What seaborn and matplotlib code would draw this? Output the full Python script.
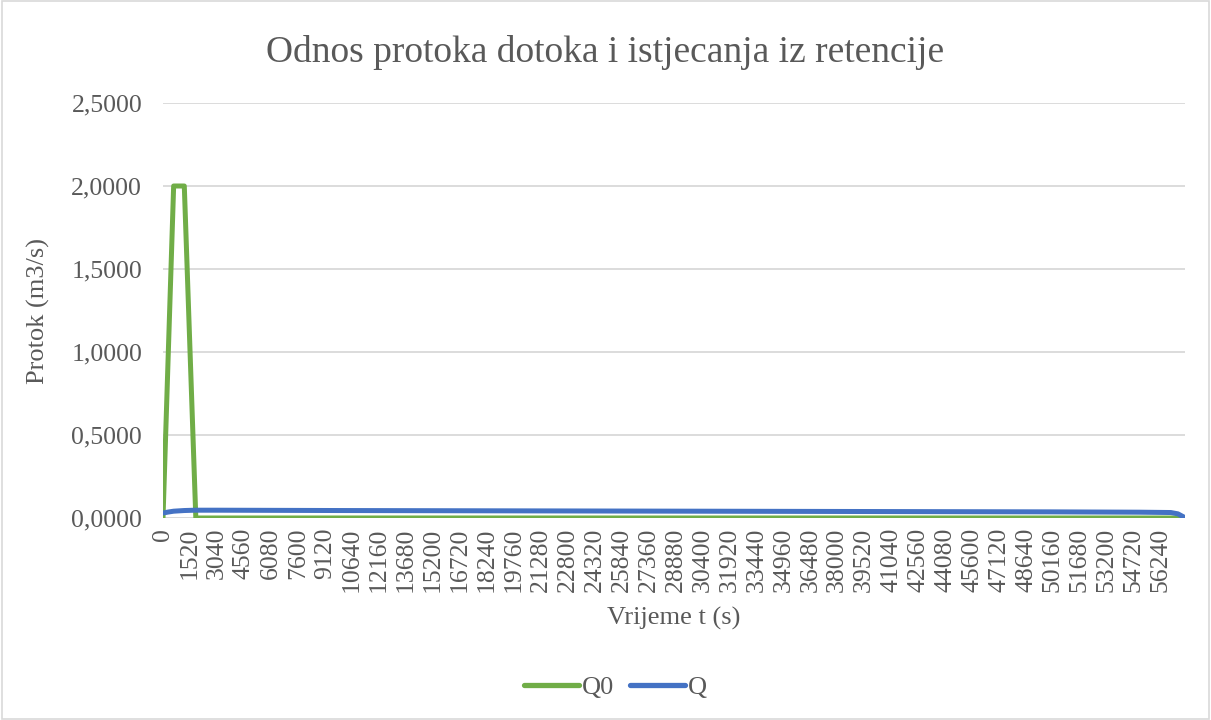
import matplotlib
matplotlib.use("Agg")
import matplotlib.pyplot as plt
import seaborn as sns
import pandas as pd
from matplotlib.patches import Rectangle
from matplotlib.lines import Line2D

# ---- data ----
t_q0 = [0, 600, 1200, 1850, 57400]
q0_vals = [0.0, 2.0, 2.0, 0.0, 0.0]

t_q = [0, 300, 600, 1200, 1800, 3000, 10000, 20000, 30000, 40000, 50000, 55000, 56800, 57200, 57600]
q_vals = [0.030, 0.036, 0.041, 0.045, 0.047, 0.047, 0.045, 0.043, 0.041, 0.039, 0.037, 0.035, 0.033, 0.025, 0.002]

x_ticks = [0, 1520, 3040, 4560, 6080, 7600, 9120, 10640, 12160, 13680, 15200, 16720,
           18240, 19760, 21280, 22800, 24320, 25840, 27360, 28880, 30400, 31920, 33440,
           34960, 36480, 38000, 39520, 41040, 42560, 44080, 45600, 47120, 48640, 50160,
           51680, 53200, 54720, 56240]
y_ticks = [0.0, 0.5, 1.0, 1.5, 2.0, 2.5]
y_labels = ["0,0000", "0,5000", "1,0000", "1,5000", "2,0000", "2,5000"]

title = "Odnos protoka dotoka i istjecanja iz retencije"
xlabel = "Vrijeme t (s)"
ylabel = "Protok (m3/s)"
series_names = ["Q0", "Q"]
colors = {"Q0": "#70AD47", "Q": "#4472C4"}

df = pd.concat([
    pd.DataFrame({"t": t_q0, "val": q0_vals, "serija": "Q0"}),
    pd.DataFrame({"t": t_q, "val": q_vals, "serija": "Q"}),
], ignore_index=True)

sns.set_theme(style="white")
plt.rcParams["font.family"] = ["Liberation Serif", "DejaVu Serif"]
text_color = "#595959"
grid_color = "#D9D9D9"

fig = plt.figure(figsize=(12.11, 7.2), dpi=100)
ax = fig.add_axes([163 / 1211, 1 - 518 / 720, (1185 - 163) / 1211, (518 - 103) / 720])

sns.lineplot(data=df, x="t", y="val", hue="serija", hue_order=series_names,
             palette=colors, ax=ax, linewidth=3.6, legend=False, sort=False,
             estimator=None)
for line in ax.get_lines():
    line.set_solid_capstyle("round")
    line.set_solid_joinstyle("round")
    line.set_zorder(3)

ax.set_xlim(0, 57600)
ax.set_ylim(0, 2.5)
ax.set_yticks(y_ticks)
ax.set_yticklabels(y_labels)
ax.set_xticks(x_ticks)
ax.set_xticklabels([str(v) for v in x_ticks], rotation=90)
ax.tick_params(axis="both", length=0, labelsize=18.5, colors=text_color)
ax.tick_params(axis="y", pad=15)
ax.tick_params(axis="x", pad=7)
for lab in ax.get_xticklabels() + ax.get_yticklabels():
    lab.set_color(text_color)

ax.yaxis.grid(True, color=grid_color, linewidth=1.3)
ax.xaxis.grid(False)
ax.set_axisbelow(True)
for s in ax.spines.values():
    s.set_visible(False)
ax.axhline(0, color=grid_color, linewidth=1.3, zorder=1)

ax.set_xlabel(xlabel, fontsize=19, color=text_color, labelpad=11)
ax.set_ylabel(ylabel, fontsize=19, color=text_color, labelpad=15)

fig.text(0.5, 1 - 53 / 720, title, ha="center", va="center", fontsize=27, color=text_color)

handles = [Line2D([0], [0], color=colors[n], linewidth=3.8, solid_capstyle="round") for n in series_names]
fig.legend(handles, series_names, loc="center", bbox_to_anchor=(0.508, 1 - 687 / 720),
           ncol=2, frameon=False, fontsize=19, handlelength=2.1, columnspacing=0.6,
           handletextpad=0.1, labelcolor=text_color)

fig.patches.append(Rectangle((0.002, 0.002), 0.996, 0.996, transform=fig.transFigure,
                             fill=False, edgecolor=grid_color, linewidth=1.2))

fig.savefig("out.png", dpi=100, facecolor="white")
